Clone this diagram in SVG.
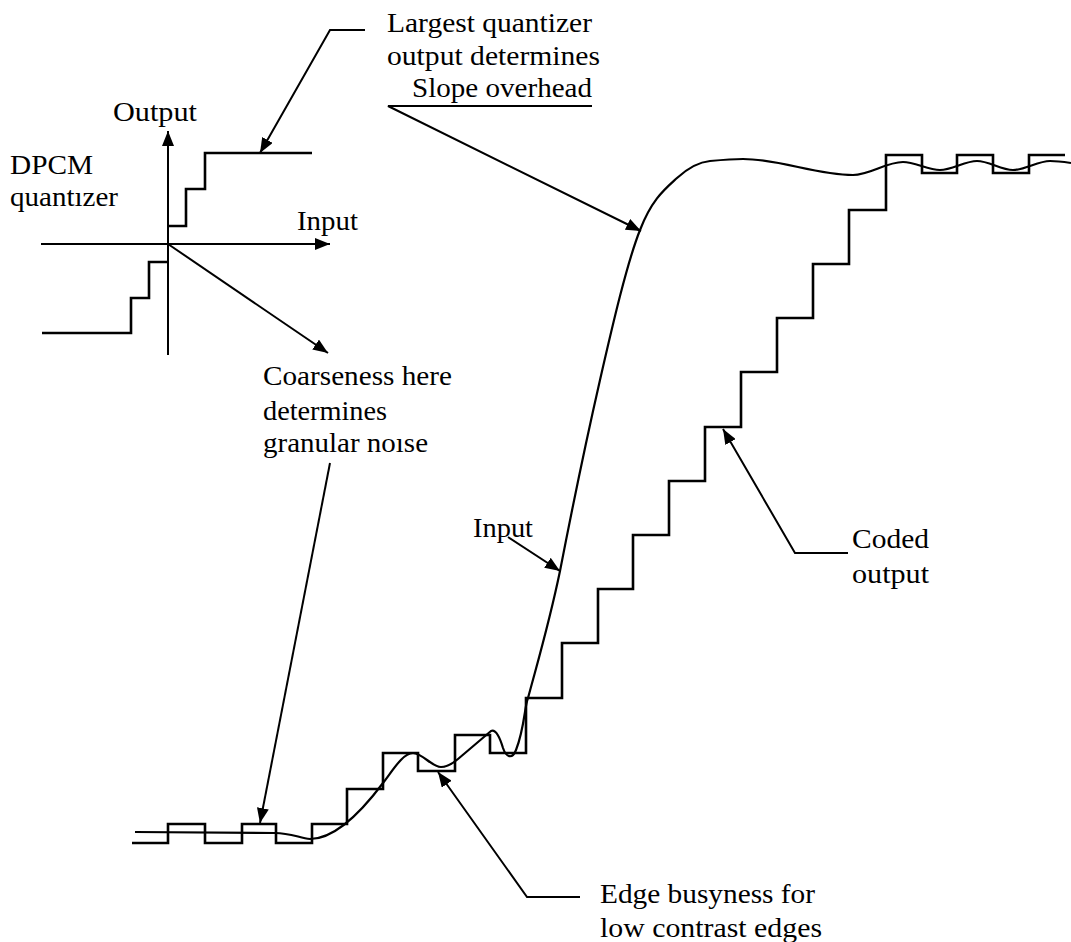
<svg xmlns="http://www.w3.org/2000/svg" width="1071" height="942" viewBox="0 0 1071 942">
  <style>
    text { font-family: "Liberation Serif", "Times New Roman", serif; font-size: 28px; fill: #000; }
    .line { fill: none; stroke: #000; stroke-width: 2; stroke-linejoin: miter; }
    .stair { fill: none; stroke: #000; stroke-width: 2.6; stroke-linejoin: miter; }
    .curve { fill: none; stroke: #000; stroke-width: 2.2; stroke-linejoin: round; }
    .lead { fill: none; stroke: #000; stroke-width: 2; marker-end: url(#head); }
  </style>
  <defs>
    <marker id="head" markerUnits="userSpaceOnUse" markerWidth="16" markerHeight="12" refX="15" refY="6" orient="auto">
      <path d="M0,0 L15,6 L0,12 z" fill="#000"/>
    </marker>
  </defs>
  <rect width="1071" height="942" fill="#fff"/>

  <!-- quantizer characteristic: axes and step transfer curve -->
  <g id="quantizer">
    <path class="lead" d="M168,355 V131"/>
    <path class="lead" d="M41,244 H330"/>
    <path class="stair" d="M168,226 H186 V189 H205 V153 H312"/>
    <path class="stair" d="M168,262 H149 V298 H131 V333 H42"/>
    <text x="113" y="121" textLength="84" lengthAdjust="spacingAndGlyphs">Output</text>
    <text x="297" y="230" textLength="61" lengthAdjust="spacingAndGlyphs">Input</text>
  </g>

  <!-- edge signal and its DPCM coded staircase -->
  <g id="input-signal">
    <path class="curve" d="M135,832 L275,833 C290,833 300,838 310,839
      C334,839 359,815 383,783 C393,770 403,753 413,753
      C422,753 432,767 441,767 C447,767 452,764 458,759 L491,731
      C496,729 500,738 503,748 C506,757 512,760 516,750
      C520,740 523,725 525,712 C526,705 527,701 528,698
      C539,657 549,624 560,571 C573,504 587,437 600,380
      C613,323 627,263 640,230 C652,199 665,189 677,178
      C688,168 699,162 710,161 C721,160 732,159 743,159
      C780,159 816,175 853,175 C870,175 886,162 903,162
      C915,162 928,170 940,170 C952,170 965,161 977,161
      C989,161 1001,170 1013,170 C1025,170 1038,161 1050,161
      C1057,161 1064,162 1071,163"/>
  </g>
  <g id="coded-output">
    <path class="stair" d="M132,843 H168 V824 H205 V843 H242 V824 H276 V843 H312 V824 H347 V789 H383 V753 H418 V771 H455 V735 H490 V753 H526 V698 H562 V643 H598 V589 H633 V535 H669 V481 H705 V427 H741 V372 H777 V318 H813 V264 H849 V210 H886 V155 H922 V173 H957 V155 H993 V173 H1029 V155 H1065"/>
  </g>

  <!-- annotation labels -->
  <g id="label-dpcm">
    <text x="10" y="174" textLength="83" lengthAdjust="spacingAndGlyphs">DPCM</text>
    <text x="10" y="206" textLength="108" lengthAdjust="spacingAndGlyphs">quantızer</text>
  </g>
  <g id="label-slope">
    <text x="387" y="32" textLength="205" lengthAdjust="spacingAndGlyphs">Largest quantizer</text>
    <text x="387" y="65" textLength="213" lengthAdjust="spacingAndGlyphs">output determines</text>
    <text x="412" y="97" textLength="180" lengthAdjust="spacingAndGlyphs">Slope overhead</text>
  </g>
  <g id="label-granular">
    <text x="263" y="385" textLength="189" lengthAdjust="spacingAndGlyphs">Coarseness here</text>
    <text x="263" y="420" textLength="124" lengthAdjust="spacingAndGlyphs">determines</text>
    <text x="263" y="452" textLength="165" lengthAdjust="spacingAndGlyphs">granular noıse</text>
  </g>
  <g id="label-input">
    <text x="473" y="537" textLength="60" lengthAdjust="spacingAndGlyphs">Input</text>
  </g>
  <g id="label-coded">
    <text x="852" y="548" textLength="77" lengthAdjust="spacingAndGlyphs">Coded</text>
    <text x="852" y="583" textLength="77" lengthAdjust="spacingAndGlyphs">output</text>
  </g>
  <g id="label-busyness">
    <text x="600" y="903" textLength="215" lengthAdjust="spacingAndGlyphs">Edge busyness for</text>
    <text x="600" y="937" textLength="222" lengthAdjust="spacingAndGlyphs">low contrast edges</text>
  </g>

  <!-- leader lines from the labels -->
  <g id="connectors">
    <path class="lead" d="M365,30 H330 L260,153"/>
    <path class="lead" d="M592,106 H388 L641,231"/>
    <path class="lead" d="M168,244 L328,353"/>
    <path class="lead" d="M330,463 L260,823"/>
    <path class="lead" d="M508,537 L560,571"/>
    <path class="lead" d="M848,553 H795 L723,429"/>
    <path class="lead" d="M580,897 H527 L438,772"/>
  </g>
</svg>
